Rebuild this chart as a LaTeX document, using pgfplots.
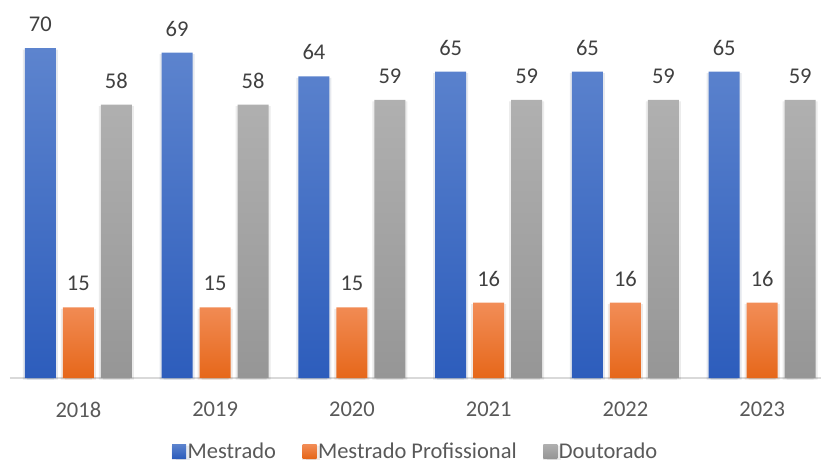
\documentclass[border=0pt]{standalone}
\usepackage{pgfplots}
\pgfplotsset{compat=1.18}
\usepackage{fontspec}
\setmainfont{Carlito}
\definecolor{btop}{HTML}{5D84CE}
\definecolor{bbot}{HTML}{2D5DBC}
\definecolor{otop}{HTML}{F28D57}
\definecolor{obot}{HTML}{E6671A}
\definecolor{gtop}{HTML}{B0B0B0}
\definecolor{gbot}{HTML}{969696}
\definecolor{txt}{HTML}{404040}
\definecolor{tick}{HTML}{595959}
\tikzset{barshadow/.style={preaction={fill=black, fill opacity=0.06, transform canvas={xshift=2pt,yshift=-1.5pt}},
  preaction={fill=black, fill opacity=0.06, transform canvas={xshift=-2pt,yshift=-1.5pt}}}}
\begin{document}
\begin{tikzpicture}
\useasboundingbox (0,0) rectangle (821pt,460pt);
\begin{axis}[
  at={(10pt,82pt)}, anchor=south west,
  scale only axis, width=811pt, height=377.1pt,
  ybar, bar width=31pt,
  xmin=-0.5, xmax=5.43, ymin=0, ymax=80,
  axis x line=bottom, axis y line=none,
  x axis line style={-, draw=black!15, line width=2pt},
  xtick=data, xticklabels={2018,2019,2020,2021,2022,2023},
  ytick=\empty, major tick length=0pt,
  /pgf/number format/assume math mode=true,
  every x tick label/.append style={font=\fontsize{22.5}{26}\selectfont, text=tick, inner sep=0pt, anchor=north, yshift=-24pt},
  nodes near coords,
  every node near coord/.append style={font=\fontsize{22.5}{26}\selectfont, text=txt, inner sep=0pt, anchor=south, yshift=16pt},
  clip=false,
  legend columns=3,
  legend cell align=left,
  legend style={at={(0.5,-0.1936)}, anchor=center, draw=none, fill=none,
    font=\fontsize{22.5}{26}\selectfont, text=tick,
    nodes={inner sep=0pt},
    /tikz/every even column/.append style={column sep=28pt}},
  legend image code/.code={\path[#1, draw=none, transform canvas={xshift=-1.5pt}] (0pt,-7pt) rectangle (14pt,7pt);},
]
\addplot[bar shift=-38pt, draw=none, barshadow, top color=btop, bottom color=bbot] coordinates {(0,70) (1,69) (2,64) (3,65) (4,65) (5,65)};
\addplot[bar shift=0pt, draw=none, barshadow, top color=otop, bottom color=obot] coordinates {(0,15) (1,15) (2,15) (3,16) (4,16) (5,16)};
\addplot[bar shift=38pt, draw=none, barshadow, top color=gtop, bottom color=gbot] coordinates {(0,58) (1,58) (2,59) (3,59) (4,59) (5,59)};
\legend{Mestrado, Mestrado Profissional, Doutorado}
\end{axis}
\end{tikzpicture}
\end{document}
